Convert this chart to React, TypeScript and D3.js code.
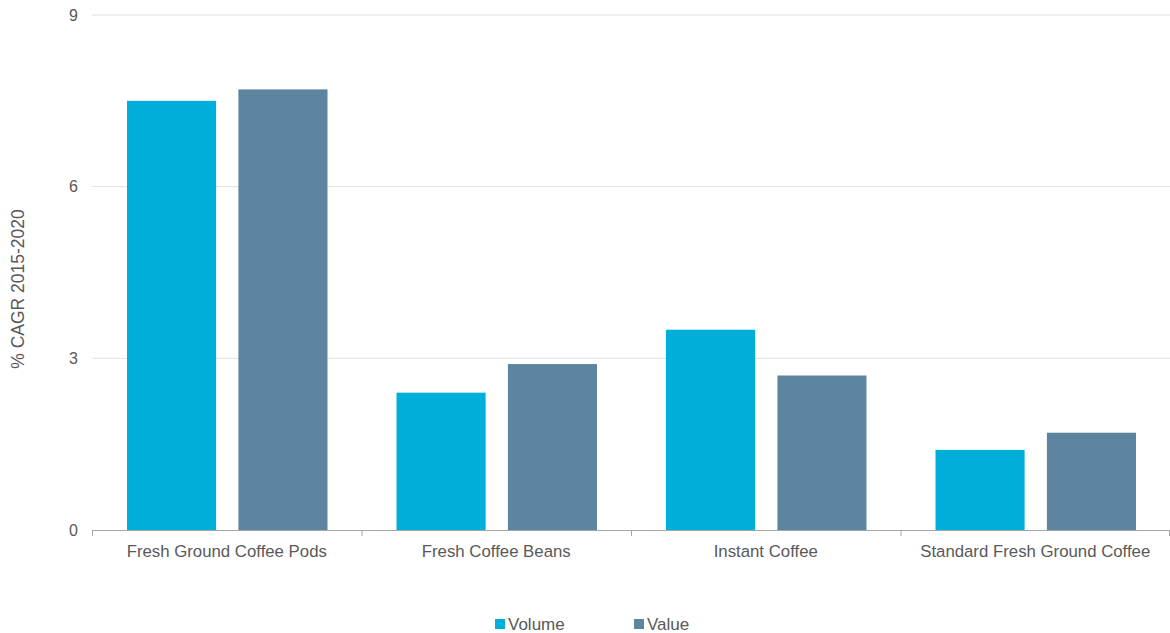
import React from "react";
import * as d3 from "d3";

const categories = ["Fresh Ground Coffee Pods", "Fresh Coffee Beans", "Instant Coffee", "Standard Fresh Ground Coffee"];
const seriesNames = ["Volume", "Value"];
const volumeValues = [7.5, 2.4, 3.5, 1.4];
const valueValues = [7.7, 2.9, 2.7, 1.7];
const yTicks = [0, 3, 6, 9];
const colors = ["#00AEDA", "#5E85A0"];

const W = 1170, H = 633;
const left = 92, right = 1170, top = 15, bottom = 530;

export default function App() {
  const x0 = d3.scaleBand<string>().domain(categories).range([left, right]).paddingInner(0).paddingOuter(0);
  const x1 = d3.scaleBand<string>().domain(seriesNames).range([35, x0.bandwidth() - 34]).paddingInner(0.2).paddingOuter(0);
  const y = d3.scaleLinear().domain([0, 9]).range([bottom, top]);
  const data = [volumeValues, valueValues];
  const font = "'Liberation Sans', Arial, sans-serif";
  const txt = "#595959";
  return (
    <svg width={W} height={H} style={{ position: "absolute", left: 0, top: 0, fontFamily: font }}>
      {yTicks.map((t) => (
        <g key={t}>
          {t > 0 && <line x1={left} x2={right} y1={y(t)} y2={y(t)} stroke="#e0e0e0" strokeWidth={1} />}
          <text x={78} y={y(t)} dy="0.35em" textAnchor="end" fontSize={16} fill={txt}>{t}</text>
        </g>
      ))}
      {categories.map((c, i) => (
        <g key={c}>
          {seriesNames.map((s, j) => (
            <rect key={s} x={x0(c)! + x1(s)!} width={x1.bandwidth()} y={y(data[j][i])} height={y(0) - y(data[j][i])} fill={colors[j]} />
          ))}
          <text x={x0(c)! + x0.bandwidth() / 2} y={557} textAnchor="middle" fontSize={16.8} fill={txt}>{c}</text>
        </g>
      ))}
      <line x1={left} x2={right} y1={bottom + 0.5} y2={bottom + 0.5} stroke="#a6a6a6" />
      {[...categories.map((c) => x0(c)!), right - 1].map((xx, i) => (
        <line key={i} x1={xx + 0.5} x2={xx + 0.5} y1={bottom} y2={bottom + 6} stroke="#a6a6a6" />
      ))}
      <text transform={`translate(24,289) rotate(-90)`} textAnchor="middle" fontSize={17.5} fill={txt}>% CAGR 2015-2020</text>
      {seriesNames.map((s, j) => {
        const lx = j === 0 ? 495 : 634;
        return (
          <g key={s}>
            <rect x={lx} y={619} width={10} height={10} fill={colors[j]} />
            <text x={lx + 13} y={630} fontSize={17} fill={txt}>{s}</text>
          </g>
        );
      })}
    </svg>
  );
}
